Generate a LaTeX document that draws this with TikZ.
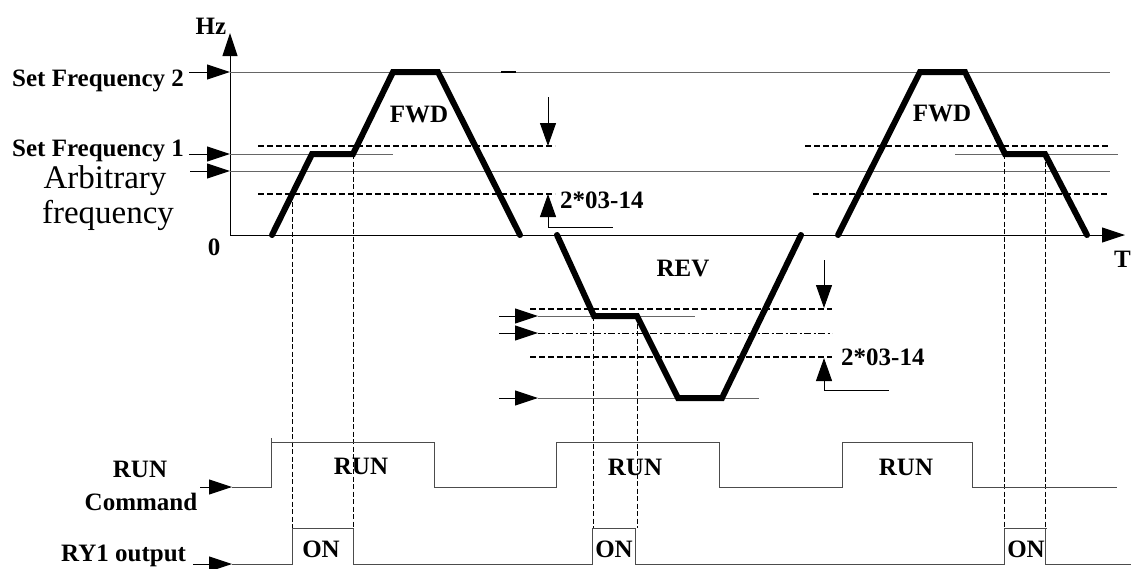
\documentclass[tikz,border=0pt]{standalone}
\usepackage{fontspec}
\setmainfont{Liberation Serif}
\usetikzlibrary{arrows.meta}
\begin{document}
\begin{tikzpicture}[x=1pt,y=-1pt,
  lbl/.style={font=\bfseries\fontsize{25}{25}\selectfont, inner sep=0pt},
  reg/.style={font=\fontsize{33}{33}\selectfont, inner sep=0pt},
  lvl/.style={line width=1pt, draw=black!60},
  sig/.style={line width=1pt, draw=black!70},
  dsh/.style={line width=1.2pt, dash pattern=on 6pt off 3pt},
  vdsh/.style={line width=1pt, dash pattern=on 5pt off 2.5pt},
  dshdot/.style={line width=1pt, dash pattern=on 7pt off 2.5pt on 2pt off 2.5pt},
  speed/.style={line width=6pt, line cap=round, line join=miter},
  arr/.style={line width=1pt, -{Triangle[length=23pt,width=15pt]}},
  dimarr/.style={line width=1pt, -{Triangle[length=23pt,width=16pt]}}]
\useasboundingbox (0,0) rectangle (1131,568);

% axes
\coordinate (O) at (230,235);
\coordinate (ytip) at (230,33);
\coordinate (xtip) at (1125,235);
\draw[arr] (O) -- (ytip);
\draw[arr] (O) -- (xtip);

% labels
\node[lbl,anchor=base] (hz) at (211,34) {Hz};
\node[lbl,anchor=base west] (sf2) at (12,86) {Set Frequency 2};
\node[lbl,anchor=base west] (sf1) at (12,156) {Set Frequency 1};
\node[reg,anchor=base] (arb1) at (105,188) {Arbitrary};
\node[reg,anchor=base] (arb2) at (108,223) {frequency};
\node[lbl,anchor=base] (zero) at (214,255) {0};
\node[lbl,anchor=base west] (tlab) at (1114,267) {T};
\node[lbl,anchor=base] (fwd1) at (419,122) {FWD};
\node[lbl,anchor=base] (fwd2) at (942,121) {FWD};
\node[lbl,anchor=base west] (dlab1) at (560,208) {2*03-14};
\node[lbl,anchor=base west] (dlab2) at (841,365) {2*03-14};
\node[lbl,anchor=base] (rev) at (683,276) {REV};
\node[lbl,anchor=base] (runl) at (140,477) {RUN};
\node[lbl,anchor=base] (cmd) at (141,510) {Command};
\node[lbl,anchor=base] (run1) at (361,474) {RUN};
\node[lbl,anchor=base] (run2) at (635,475) {RUN};
\node[lbl,anchor=base] (run3) at (906,475) {RUN};
\node[lbl,anchor=base] (on1) at (321,557) {ON};
\node[lbl,anchor=base] (on2) at (614,557) {ON};
\node[lbl,anchor=base] (on3) at (1026,557) {ON};
\node[lbl,anchor=base west] (ry) at (61,561) {RY1 output};

% frequency levels (upper)
\draw[arr] (189,72) -- (230,72);
\draw[lvl] (230,72) -- (1110,72);
\draw[line width=2.5pt] (501,72) -- (516,72);
\draw[arr] (189,154) -- (230,154);
\draw[lvl] (230,154) -- (393,154);
\draw[lvl] (955,154) -- (1118,154);
\draw[arr] (190,171) -- (230,171);
\draw[lvl] (230,171) -- (1110,171);
\draw[dsh] (258,146) -- (555,146);
\draw[dsh] (805,146) -- (1109,146);
\draw[dsh] (258,194) -- (555,194);
\draw[dsh] (813,194) -- (1109,194);

% upper dimension
\draw[dimarr] (548,97) -- (548,146);
\draw[dimarr] (548,227) -- (548,194);
\draw[line width=1pt] (548,227) -- (613,227);

% frequency levels (reverse)
\draw[arr] (499,316) -- (538,316);
\draw[lvl] (538,316) -- (695,316);
\draw[arr] (499,333) -- (538,333);
\draw[dshdot] (538,333) -- (832,333);
\draw[arr] (499,398) -- (538,398);
\draw[lvl] (538,398) -- (759,398);
\draw[dsh] (530,309) -- (832,309);
\draw[dsh] (530,357) -- (832,357);

% lower dimension
\draw[dimarr] (824,260) -- (824,308);
\draw[dimarr] (824,390) -- (824,358);
\draw[line width=1pt] (824,390) -- (889,390);

% dashed verticals
\draw[vdsh] (292,194) -- (292,528);
\draw[vdsh] (353,154) -- (353,528);
\draw[vdsh] (593,316) -- (593,528);
\draw[vdsh] (637,316) -- (637,528);
\draw[vdsh] (1004,154) -- (1004,528);
\draw[vdsh] (1045,154) -- (1045,528);

% speed curve
\draw[speed] (272,235) -- (312,154) -- (353,154) -- (393,72) -- (438,72) -- (520,235);
\draw[speed] (557,235) -- (594,316) -- (637,316) -- (678,398) -- (722,398) -- (801,235);
\draw[speed] (838,235) -- (920,72) -- (965,72) -- (1005,154) -- (1045,154) -- (1087,235);

% RUN command signal
\draw[arr] (200,487) -- (232,487);
\draw[sig] (232,487) -- (271,487) -- (271,442) -- (434,442) -- (434,487) -- (556,487) -- (556,442) -- (719,442) -- (719,487) -- (842,487) -- (842,442) -- (972,442) -- (972,487) -- (1117,487);
\draw[sig] (271,442) -- (271,438);

% RY1 output signal
\draw[arr] (193,564) -- (232,564);
\draw[sig] (232,564) -- (292,564) -- (292,528) -- (353,528) -- (353,564) -- (592,564) -- (592,528) -- (635,528) -- (635,564) -- (1004,564) -- (1004,528) -- (1047,528);
\draw[sig] (1045,528) -- (1045,564) -- (1131,564);
\end{tikzpicture}
\end{document}
